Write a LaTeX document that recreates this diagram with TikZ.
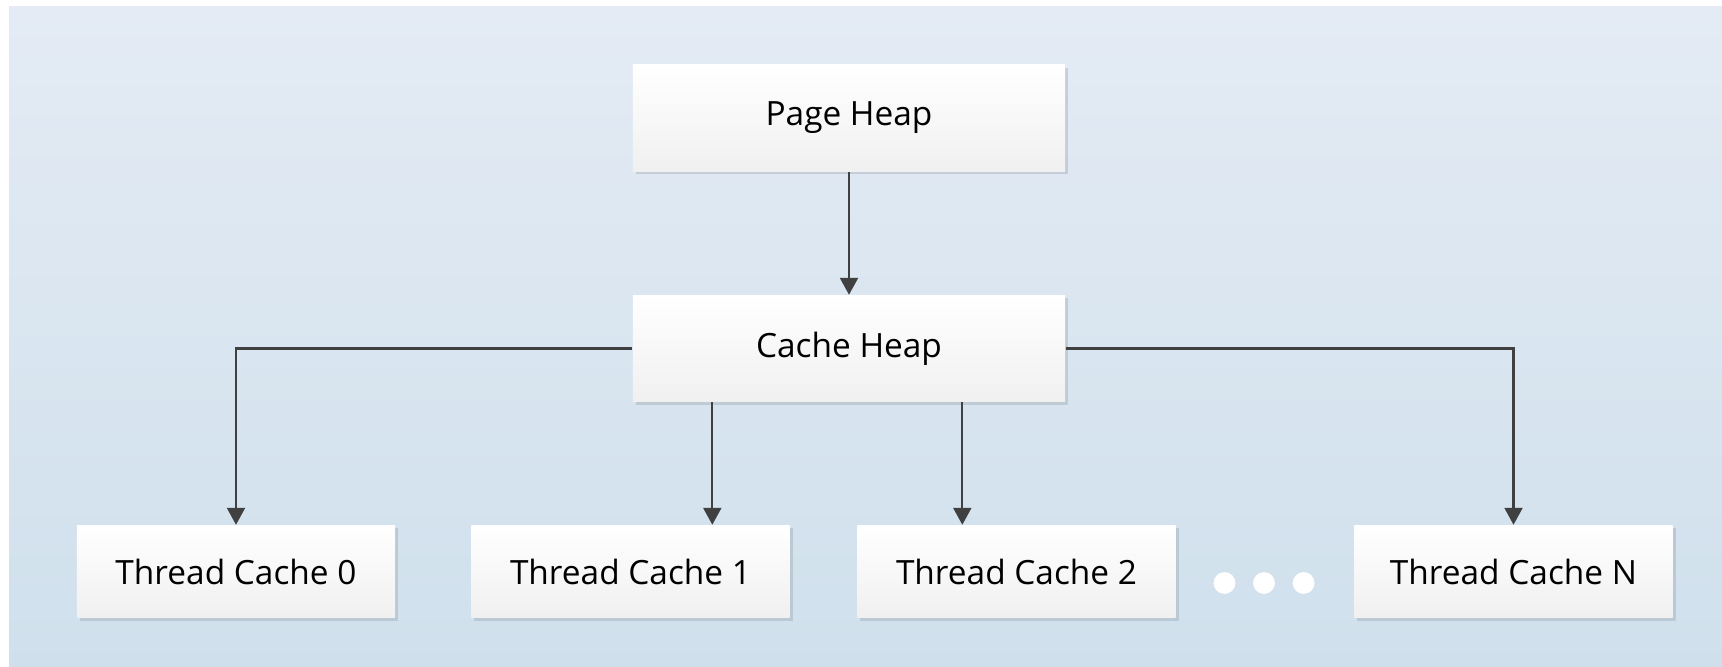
\documentclass[tikz,border=0pt]{standalone}
\usepackage{fontspec}
\setmainfont{Open Sans}
\usetikzlibrary{arrows.meta,shadows}

\definecolor{bgtop}{RGB}{228,235,244}
\definecolor{bgbottom}{RGB}{207,224,236}
\definecolor{boxbottom}{RGB}{240,240,240}
\definecolor{linegray}{RGB}{64,64,64}

\begin{document}
\begin{tikzpicture}[x=0.01cm,y=-0.01cm,
  heapbox/.style={rectangle,top color=white,bottom color=boxbottom,
    minimum width=4.32cm,minimum height=1.06cm,inner sep=0pt,
    font=\fontsize{9.5}{11}\selectfont,
    drop shadow={shadow xshift=0.03cm,shadow yshift=-0.03cm,fill=black!30!bgbottom,opacity=0.35}},
  cachebox/.style={heapbox,minimum width=3.18cm,minimum height=0.92cm},
  arr/.style={draw=linegray,line width=0.6pt,-{Triangle[length=4.8pt,width=5.1pt]}}]
\useasboundingbox (0,0) rectangle (1722,667);
\shade[top color=bgtop,bottom color=bgbottom] (9,7) rectangle (1722,667);

\node[heapbox] (page) at (849,118) {Page Heap};
\node[heapbox] (cache) at (849,348.5) {Cache Heap};
\node[cachebox] (tc0) at (236,571.5) {Thread Cache 0};
\node[cachebox] (tc1) at (630.5,571.5) {Thread Cache 1};
\node[cachebox] (tc2) at (1016.5,571.5) {Thread Cache 2};
\node[cachebox] (tcn) at (1513.5,571.5) {Thread Cache N};

\fill[white] (1224.5,583) circle (10.9) (1264,583) circle (10.9) (1303.6,583) circle (10.9);

\coordinate (c1) at (712.3,0);
\coordinate (c2) at (962.3,0);
\draw[arr] (page) -- (cache);
\draw[arr] (cache.west) -| (tc0.north);
\draw[arr] (cache.south -| c1) -- (tc1.north -| c1);
\draw[arr] (cache.south -| c2) -- (tc2.north -| c2);
\draw[arr] (cache.east) -| (tcn.north);
\end{tikzpicture}
\end{document}
